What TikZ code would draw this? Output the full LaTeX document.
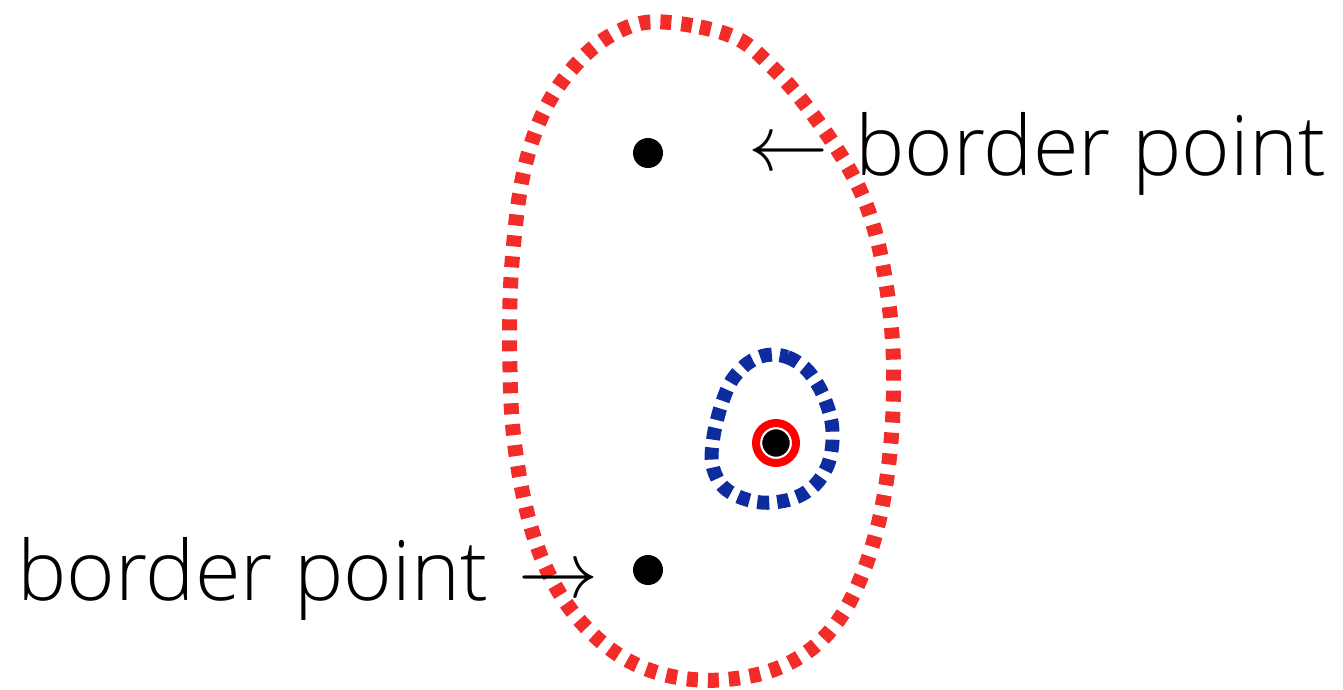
\documentclass[tikz,border=0pt]{standalone}
\usepackage{fontspec}
\usepackage{graphicx}
\setmainfont{Open Sans}[UprightFont=* Light]
\definecolor{dashred}{RGB}{242,44,40}
\definecolor{dashblue}{RGB}{14,44,158}
\tikzset{
  redloop/.style={draw=dashred, line width=15pt, dash pattern=on 11pt off 10pt},
  blueloop/.style={draw=dashblue, line width=14pt, dash pattern=on 12pt off 8pt},
  dot/.style={circle, fill=black, inner sep=0pt, minimum size=30pt},
  lbl/.style={inner sep=0pt, font=\fontsize{83}{83}\selectfont, anchor=base west},
  arr/.style={inner sep=0pt, anchor=base}
}
\begin{document}
\begin{tikzpicture}[x=1pt,y=-1pt]
\useasboundingbox (0,0) rectangle (1343,689);
% big red region
\draw[redloop] plot[smooth cycle, tension=0.6] coordinates {
 (650,22) (700,27) (740,40) (770,65) (800,98) (835,146) (860,190) (876,235)
 (887,290) (893,350) (893,410) (888,470) (878,525) (862,575) (840,618)
 (810,650) (770,671) (720,680) (675,677) (637,665) (605,645) (575,615)
 (552,580) (535,540) (522,490) (513,430) (510,370) (510,300) (514,240)
 (522,180) (536,130) (556,90) (585,55) (615,33)};
% small blue region
\draw[blueloop] plot[smooth cycle, tension=0.6] coordinates {
 (767,355) (787,357) (805,368) (818,385) (827,405) (832,425) (832,447)
 (827,467) (815,485) (797,497) (777,502) (757,502) (735,495) (720,483)
 (712,463) (713,440) (717,420) (723,400) (732,380) (748,363)};
% core point
\node[circle, draw=red, line width=8pt, inner sep=0pt, minimum size=40pt] (ring) at (776,443) {};
\node[circle, fill=black, draw=white, line width=1.5pt, inner sep=0pt, minimum size=29pt] (core) at (ring.center) {};
% border points
\node[dot] (b1) at (648,153) {};
\node[dot] (b2) at (648,570) {};
% labels
\node[arr] (a1) at (788,170) {\scalebox{8}{$\leftarrow$}};
\node[lbl] (l1) at (855,175) {border point};
\node[arr] (a2) at (558,597) {\scalebox{8}{$\rightarrow$}};
\node[lbl] (l2) at (17,600) {border point};
\end{tikzpicture}
\end{document}
